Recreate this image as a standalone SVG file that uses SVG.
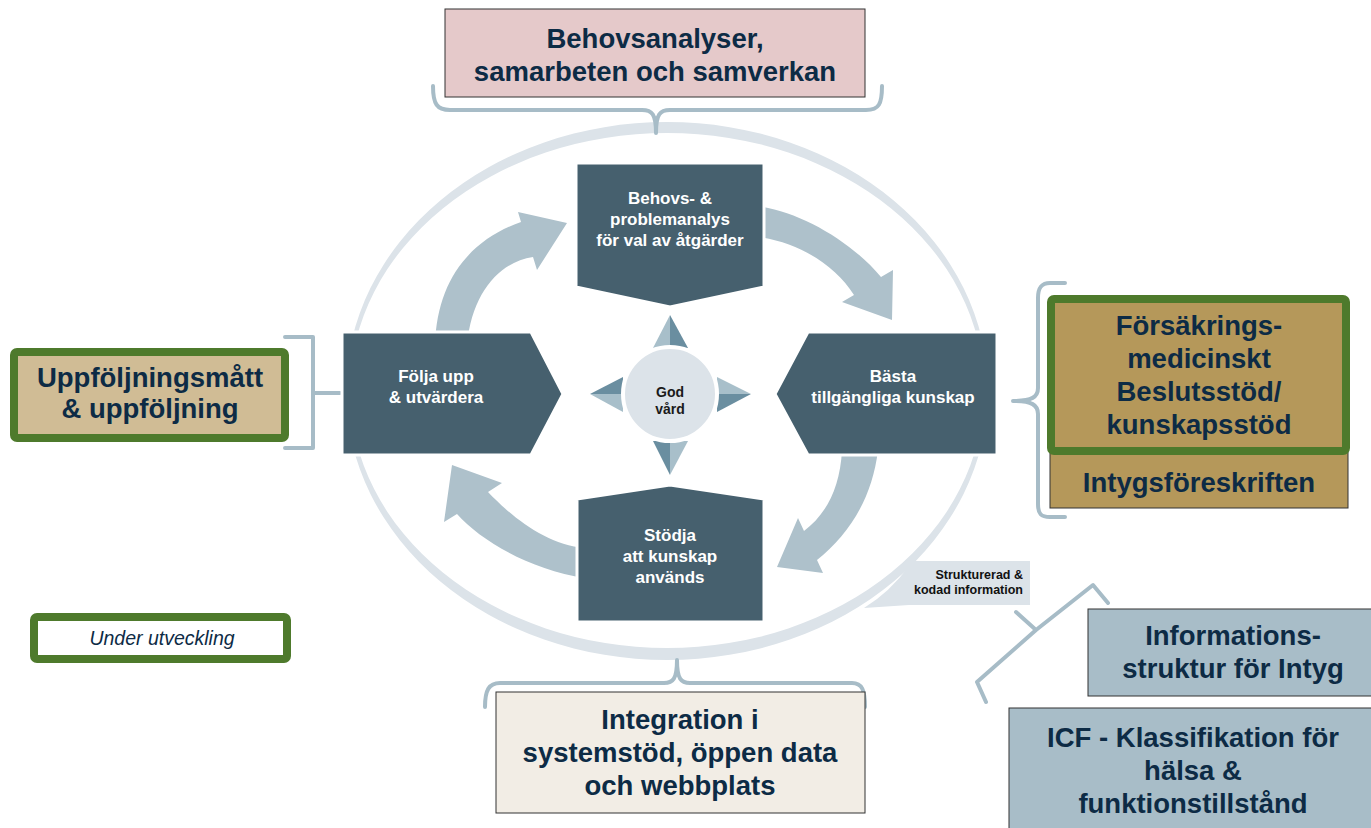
<svg xmlns="http://www.w3.org/2000/svg" width="1371" height="828" viewBox="0 0 1371 828">
<defs>
<style>
.ring{fill:#dce3e9;fill-rule:evenodd}
.flow{fill:#aec1cb}
.dark{fill:#46606e;stroke:#ffffff;stroke-width:3}
.lt{fill:#a8bfca}
.dk{fill:#6a8ea0}
.brace{fill:none;stroke:#a7bcc7;stroke-width:4;stroke-linecap:round;stroke-linejoin:round}
.wt{font-family:"Liberation Sans",Arial,sans-serif;font-weight:bold;font-size:17px;fill:#ffffff;text-anchor:middle}
.big{font-family:"Liberation Sans",Arial,sans-serif;font-weight:bold;font-size:27.5px;fill:#0d2b45;text-anchor:middle}
.sm{font-family:"Liberation Sans",Arial,sans-serif;font-weight:bold;font-size:12.5px;fill:#111111;text-anchor:end}
.green{stroke:#4e7a2c;stroke-width:8}
.thin{stroke:#333333;stroke-width:1}
</style>
</defs>

<g id="ring">
<path class="ring" d="M346,391 A321,269 0 1,0 988,391 A321,269 0 1,0 346,391 Z M350,390.5 A317,257.5 0 1,1 984,390.5 A317,257.5 0 1,1 350,390.5 Z"/>
<path fill="#dce3e9" d="M864,608 Q890,592 909,566 L909,605 Z"/>
<rect x="907" y="561" width="123" height="44" fill="#dce3e9"/>
</g>

<g id="connectors">
<path class="flow" d="M435,345 C437,280 470,240 521,222 L518,212 L567,223 L537,270 L533,257 C500,262 472,292 467,345 Z"/>
<path class="flow" d="M758,206 C800,212 850,240 881,277 L893,270 L892,320 L842,302 L854,295 C835,265 800,243 758,237 Z"/>
<path class="flow" d="M878,450 C872,500 848,535 817,560 L823,573 L777,567 L798,518 L804,531 C825,515 840,490 842,450 Z"/>
<path class="flow" d="M585,578 C530,570 480,540 457,514 L444,522 L452,465 L502,483 L488,492 C510,515 545,545 585,548 Z"/>
<path class="brace" d="M433,86 C433,104 437,110 450,110 L642,110 C652,110 656,114 656,133 M656,133 C656,114 660,110 670,110 L866,110 C879,110 882,104 882,86"/>
<path class="brace" d="M485,707 C485,690 489,683 500,683 L664,683 C673,683 677,679 677,660 M677,660 C677,679 681,683 690,683 L852,683 C862,683 865,690 865,707"/>
<path class="brace" d="M1065,283 L1050,283 C1041,283 1038,288 1038,298 L1038,388 C1038,397 1032,401 1013,401 M1013,401 C1032,401 1038,405 1038,414 L1038,504 C1038,514 1041,517 1050,517 L1065,517"/>
<path class="brace" d="M285,337 L313,337 L313,448 L285,448 M313,393 L340,393"/>
<path class="brace" d="M1108,603 L1093,585 L1036,630 L1016,612 M1036,630 L977,682 L986,702"/>
</g>

<g id="node-top-step">
<path class="dark" d="M576,163 H764 V287 L670,307 L576,287 Z"/>
<text class="wt" x="670" y="204">Behovs- &amp;</text>
<text class="wt" x="670" y="225">problemanalys</text>
<text class="wt" x="670" y="246">för val av åtgärder</text>
</g>

<g id="node-left-step">
<path class="dark" d="M342,332 H531 L563,394 L531,455 H342 Z"/>
<text class="wt" x="436" y="382">Följa upp</text>
<text class="wt" x="436" y="403">&amp; utvärdera</text>
</g>

<g id="node-right-step">
<path class="dark" d="M808,332 H997 V455 H808 L775,394 Z"/>
<text class="wt" x="893" y="382">Bästa</text>
<text class="wt" x="893" y="403">tillgängliga kunskap</text>
</g>

<g id="node-bottom-step">
<path class="dark" d="M577,499 L670,485 L764,499 V622 H577 Z"/>
<text class="wt" x="670" y="541">Stödja</text>
<text class="wt" x="670" y="562">att kunskap</text>
<text class="wt" x="670" y="583">används</text>
</g>

<g id="node-center">
<path class="lt" d="M670,315 L653,348 L670,348 Z"/>
<path class="dk" d="M670,315 L688,348 L670,348 Z"/>
<path class="dk" d="M670,475 L653,441 L670,441 Z"/>
<path class="lt" d="M670,475 L688,441 L670,441 Z"/>
<path class="dk" d="M590,394 L623,377 L623,394 Z"/>
<path class="lt" d="M590,394 L623,412 L623,394 Z"/>
<path class="lt" d="M751,394 L717,377 L717,394 Z"/>
<path class="dk" d="M751,394 L717,412 L717,394 Z"/>
<circle cx="670" cy="394" r="47" fill="#dce3e9" stroke="#ffffff" stroke-width="4"/>
<text x="670" y="397" font-family="'Liberation Sans',Arial,sans-serif" font-weight="bold" font-size="14" fill="#1a1a1a" text-anchor="middle">God</text>
<text x="670" y="414" font-family="'Liberation Sans',Arial,sans-serif" font-weight="bold" font-size="14" fill="#1a1a1a" text-anchor="middle">vård</text>
</g>

<g id="node-behovsanalyser">
<rect x="445" y="9" width="420" height="88" fill="#e5c9ca" class="thin"/>
<text class="big" x="655" y="48">Behovsanalyser,</text>
<text class="big" x="655" y="81">samarbeten och samverkan</text>
</g>

<g id="node-integration">
<rect x="496" y="692" width="369" height="121" fill="#f2ede5" class="thin"/>
<text class="big" x="680" y="729">Integration i</text>
<text class="big" x="680" y="762">systemstöd, öppen data</text>
<text class="big" x="680" y="795">och webbplats</text>
</g>

<g id="node-uppfoljning">
<rect x="14" y="352" width="271" height="86" rx="3" fill="#d0bc95" class="green"/>
<text class="big" x="150" y="387">Uppföljningsmått</text>
<text class="big" x="150" y="418">&amp; uppföljning</text>
</g>

<g id="node-intygsforeskriften">
<rect x="1050" y="452" width="298" height="56" fill="#b5985a" class="thin"/>
<text class="big" x="1199" y="492">Intygsföreskriften</text>
</g>

<g id="node-forsakring">
<rect x="1051" y="299" width="295" height="152" rx="3" fill="#b5985a" class="green"/>
<text class="big" x="1199" y="335">Försäkrings-</text>
<text class="big" x="1199" y="368">medicinskt</text>
<text class="big" x="1199" y="401">Beslutsstöd/</text>
<text class="big" x="1199" y="434">kunskapsstöd</text>
</g>

<g id="node-strukturerad">
<text class="sm" x="1023" y="579">Strukturerad &amp;</text>
<text class="sm" x="1023" y="594">kodad information</text>
</g>

<g id="node-informationsstruktur">
<rect x="1088" y="609" width="290" height="87" fill="#a8bdc8" class="thin"/>
<text class="big" x="1233" y="645">Informations-</text>
<text class="big" x="1233" y="678">struktur för Intyg</text>
</g>

<g id="node-icf">
<rect x="1009" y="708" width="370" height="130" fill="#a8bdc8" class="thin"/>
<text class="big" x="1193" y="747">ICF - Klassifikation för</text>
<text class="big" x="1193" y="780">hälsa &amp;</text>
<text class="big" x="1193" y="813">funktionstillstånd</text>
</g>

<g id="node-legend">
<rect x="34" y="617" width="253" height="42" rx="3" fill="#ffffff" class="green"/>
<text x="162" y="645" font-family="'Liberation Sans',Arial,sans-serif" font-style="italic" font-size="19.5" fill="#0d2b45" text-anchor="middle">Under utveckling</text>
</g>
</svg>
